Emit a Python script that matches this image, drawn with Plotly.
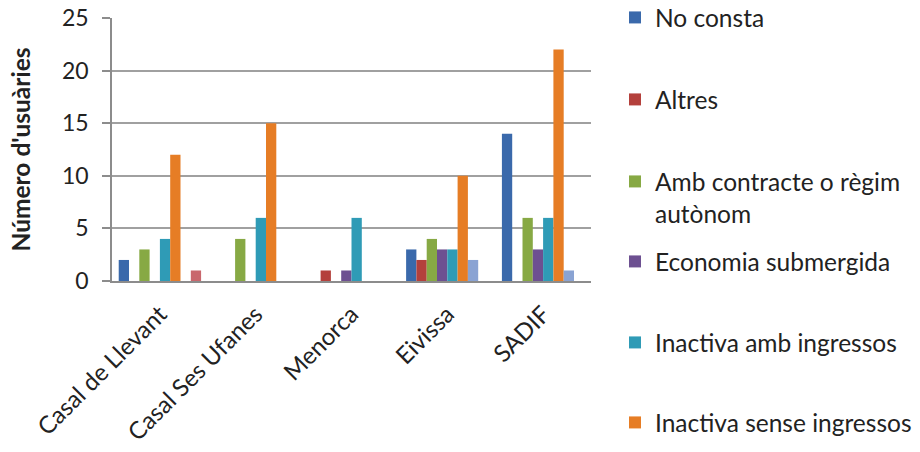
import plotly.graph_objects as go

categories = ["Casal de Llevant", "Casal Ses Ufanes", "Menorca", "Eivissa", "SADIF"]
series_names = [
    "No consta",
    "Altres",
    "Amb contracte o règim<br>autònom",
    "Economia submergida",
    "Inactiva amb ingressos",
    "Inactiva sense ingressos",
    "Sèrie 7",
    "Sèrie 8",
]
no_consta = [2, 0, 0, 3, 14]
altres = [0, 0, 1, 2, 0]
amb_contracte = [3, 4, 0, 4, 6]
economia_submergida = [0, 0, 1, 3, 3]
inactiva_amb = [4, 6, 6, 3, 6]
inactiva_sense = [12, 15, 0, 10, 22]
serie7 = [0, 0, 0, 2, 1]
serie8 = [1, 0, 0, 0, 0]
values = [no_consta, altres, amb_contracte, economia_submergida,
          inactiva_amb, inactiva_sense, serie7, serie8]
y_ticks = [0, 5, 10, 15, 20, 25]

colors = ["#3A69AB", "#B4403C", "#87A944", "#6D5091", "#2F9BB6", "#E67D25",
          "#8AA3D3", "#C9676D"]

W, H = 920, 452
L, T, PW, PH = 112, 18, 479, 263
B = H - T - PH
R = W - L - PW

legend_ids = ["legend", "legend2", "legend3", "legend4", "legend5", "legend6"]
legend_text_y = [18, 100, 182, 262, 343, 423]   # y of first text line
FONT = "Lato, Carlito, Calibri, sans-serif"

fig = go.Figure()
for i, (name, vals) in enumerate(zip(series_names, values)):
    shown = i < len(legend_ids)
    fig.add_trace(go.Bar(
        x=categories, y=vals, name=name,
        marker=dict(color=colors[i], line=dict(width=0)),
        showlegend=shown,
        legend=legend_ids[i] if shown else "legend",
    ))

legends = {}
for lid, ty in zip(legend_ids, legend_text_y):
    top_fig = ty - 23
    legends[lid] = dict(
        font=dict(family=FONT, size=24.5, color="#222"),
        valign="top",
        bgcolor="rgba(0,0,0,0)",
        xanchor="left", yanchor="top",
        x=(615 - L) / PW,
        y=(T + PH - top_fig) / PH,
    )

fig.update_layout(
    width=W, height=H,
    paper_bgcolor="white", plot_bgcolor="white",
    margin=dict(l=L, r=R, t=T, b=B, autoexpand=False),
    barmode="group", bargap=0.14, bargroupgap=0,
    font=dict(family=FONT, color="#222"),
    **legends,
    xaxis=dict(
        tickangle=-45, tickfont=dict(family=FONT, size=24, color="#222"),
        showline=True, linecolor="#8c8c8c", linewidth=1.5,
        ticks="", showgrid=False, ticklabelstandoff=8, ticklabelshift=0,
        automargin=False,
    ),
    yaxis=dict(
        range=[0, 25], tickvals=y_ticks,
        tickfont=dict(family=FONT, size=23, color="#222"),
        showline=True, linecolor="#8c8c8c", linewidth=1.5,
        ticks="outside", ticklen=8, tickcolor="#8c8c8c", tickwidth=1.5,
        ticklabelstandoff=9, ticklabeloverflow="allow",
        showgrid=True, gridcolor="#a0a0a0", gridwidth=1.5,
        zeroline=False,
        title=dict(text="<b>Número d'usuàries</b>",
                   font=dict(family=FONT, size=24.5, color="#222"), standoff=24),
        automargin=False,
    ),
)
fig.write_html("out.html", config={"displayModeBar": False},
               post_script="document.body.style.margin='0';")
